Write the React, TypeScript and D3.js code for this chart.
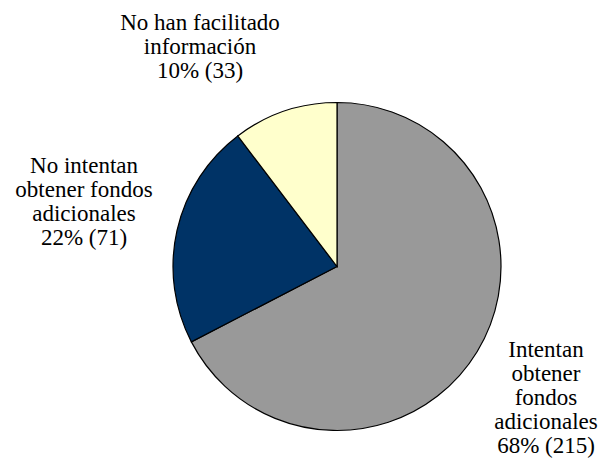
import * as d3 from 'd3';

// slice data, in drawing order (clockwise from 12 o'clock)
const categories = [
  ['Intentan', 'obtener', 'fondos', 'adicionales'],
  ['No intentan', 'obtener fondos', 'adicionales'],
  ['No han facilitado', 'información'],
];
const counts = [215, 71, 33];
const percents = [68, 22, 10];
const colors = ['#999999', '#003366', '#FFFFCC'];

// label anchor (center x, first baseline y) per slice
const labelPos = [
  [546, 357],
  [84, 173],
  [200, 30],
];

const width = 605;
const height = 464;
const cx = 337;
const cy = 266.5;
const radius = 164;
const lineH = 24;
const font = { fontFamily: "'Liberation Serif'", fontSize: '23px' };

export default function App() {
  const pie = d3.pie<number>().sort(null).value(d => d);
  const arc = d3.arc<d3.PieArcDatum<number>>().innerRadius(0).outerRadius(radius);
  const slices = pie(counts);

  return (
    <svg width={width} height={height} style={{ position: 'absolute', left: 0, top: 0 }}>
      <g transform={`translate(${cx},${cy})`}>
        {slices.map((s, i) => (
          <path key={i} d={arc(s) || ''} fill={colors[i]} stroke="#000" strokeWidth={1.2} />
        ))}
      </g>
      {categories.map((lines, i) =>
        [...lines, `${percents[i]}% (${counts[i]})`].map((s, j) => (
          <text
            key={`${i}-${j}`}
            x={labelPos[i][0]}
            y={labelPos[i][1] + j * lineH}
            textAnchor="middle"
            fill="#000"
            style={font}
          >
            {s.slice(0, 1)}{s.slice(1)}
          </text>
        ))
      )}
    </svg>
  );
}
